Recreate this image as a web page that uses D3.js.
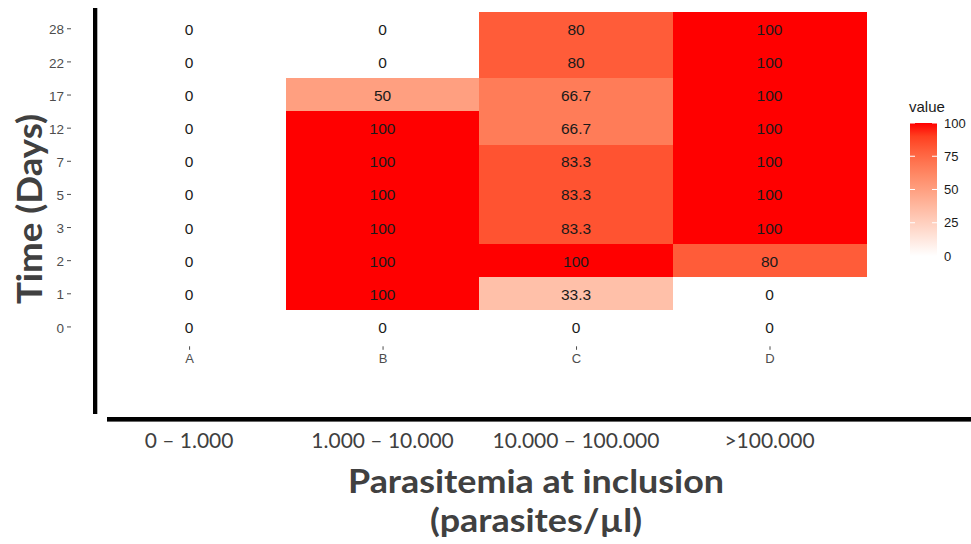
<!DOCTYPE html>
<html>
<head>
<meta charset="utf-8">
<script src="https://cdn.jsdelivr.net/npm/d3@7"></script>
<style>
  body { margin: 0; background: #fff; }
  svg { display: block; }
</style>
</head>
<body>
<div id="chart"></div>
<script>
// categories
const groups = ["A", "B", "C", "D"];
const groupLabels = ["0 \u2013 1.000", "1.000 \u2013 10.000", "10.000 \u2013 100.000", ">100.000"];
const days = ["0", "1", "2", "3", "5", "7", "12", "17", "22", "28"];

// % per day, one array per group (same order as days)
const valuesA = [0, 0, 0, 0, 0, 0, 0, 0, 0, 0];
const valuesB = [0, 100, 100, 100, 100, 100, 100, 50, 0, 0];
const valuesC = [0, 33.3, 100, 83.3, 83.3, 83.3, 66.7, 66.7, 80, 80];
const valuesD = [0, 0, 80, 100, 100, 100, 100, 100, 100, 100];
const legendTicks = [0, 25, 50, 75, 100];

const seriesByGroup = { A: valuesA, B: valuesB, C: valuesC, D: valuesD };
const cells = [];
groups.forEach(g => {
  seriesByGroup[g].forEach((v, i) => cells.push({ group: g, day: days[i], value: v }));
});

const W = 971, H = 544;
const FONT = "'Liberation Sans', Arial, sans-serif";
const SLIDE_FONT = "Lato, 'Open Sans', sans-serif";
const svg = d3.select("#chart").append("svg").attr("width", W).attr("height", H);

// ggplot style discrete expansion (0.6 of a step on each side)
const x = d3.scalePoint().domain(groups).range([73, 885.6]).padding(0.6);
const y = d3.scalePoint().domain(days.slice().reverse()).range([8.4, 346.3]).padding(0.6);
const color = d3.scaleLinear().domain([0, 100]).range(["#ffffff", "#ff0000"]).interpolate(d3.interpolateLab);

const sx = x.step(), sy = y.step();

svg.append("g").selectAll("rect").data(cells).join("rect")
  .attr("x", d => x(d.group) - sx / 2)
  .attr("y", d => y(d.day) - sy / 2)
  .attr("width", sx + 0.3)
  .attr("height", sy + 0.3)
  .attr("fill", d => color(d.value))
  .attr("shape-rendering", "crispEdges");

svg.append("g").selectAll("text").data(cells).join("text")
  .attr("x", d => x(d.group))
  .attr("y", d => y(d.day))
  .attr("dy", "0.42em")
  .attr("text-anchor", "middle")
  .style("font-family", FONT)
  .style("font-size", "15.5px")
  .attr("fill", "#1a1a1a")
  .text(d => d.value);

// y axis (ggplot-like)
const yAxis = svg.append("g").attr("transform", "translate(71,0)")
  .call(d3.axisLeft(y).tickSize(4).tickPadding(3));
yAxis.select(".domain").remove();
yAxis.selectAll("line").attr("stroke", "#4d4d4d");
yAxis.selectAll("text").attr("fill", "#4d4d4d").attr("dy", "0.42em")
  .style("font-family", FONT).style("font-size", "13.5px");

const xAxis = svg.append("g").attr("transform", "translate(0,346.3)")
  .call(d3.axisBottom(x).tickSize(3.5).tickPadding(4));
xAxis.select(".domain").remove();
xAxis.selectAll("line").attr("stroke", "#4d4d4d");
xAxis.selectAll("text").attr("fill", "#4d4d4d")
  .style("font-family", FONT).style("font-size", "13px");

// black frame lines drawn on top of the plot
svg.append("rect").attr("x", 93).attr("y", 8).attr("width", 4.3).attr("height", 406).attr("fill", "#000");
svg.append("rect").attr("x", 107).attr("y", 417).attr("width", 864).attr("height", 4.6).attr("fill", "#000");

// category labels under the black line
svg.append("g").selectAll("text").data(groups).join("text")
  .attr("x", d => x(d))
  .attr("y", 448)
  .attr("text-anchor", "middle")
  .style("font-family", SLIDE_FONT)
  .style("font-size", "21px")
  .attr("fill", "#404040")
  .text((d, i) => groupLabels[i]);

svg.append("text")
  .attr("x", 536).attr("y", 493)
  .attr("text-anchor", "middle")
  .attr("textLength", 376).attr("lengthAdjust", "spacingAndGlyphs")
  .style("font-family", SLIDE_FONT)
  .style("font-size", "33px").style("font-weight", "bold")
  .attr("fill", "#404040")
  .text("Parasitemia at inclusion");

svg.append("text")
  .attr("x", 536).attr("y", 532)
  .attr("text-anchor", "middle")
  .attr("textLength", 212).attr("lengthAdjust", "spacingAndGlyphs")
  .style("font-family", SLIDE_FONT)
  .style("font-size", "33px").style("font-weight", "bold")
  .attr("fill", "#404040")
  .text("(parasites/\u00b5l)");

svg.append("text")
  .attr("transform", "translate(42,209) rotate(-90)")
  .attr("text-anchor", "middle")
  .attr("textLength", 190).attr("lengthAdjust", "spacingAndGlyphs")
  .style("font-family", SLIDE_FONT)
  .style("font-size", "34px").style("font-weight", "bold")
  .attr("fill", "#404040")
  .text("Time (Days)");

// legend colour bar
const lg = d3.scaleLinear().domain([0, 100]).range([256, 123]);
const defs = svg.append("defs");
const grad = defs.append("linearGradient").attr("id", "legendGrad")
  .attr("x1", 0).attr("y1", 1).attr("x2", 0).attr("y2", 0);
d3.range(0, 101, 10).forEach(v => {
  grad.append("stop").attr("offset", `${v}%`).attr("stop-color", color(v));
});
svg.append("text").attr("x", 909).attr("y", 112)
  .style("font-family", FONT).style("font-size", "15px")
  .attr("fill", "#1a1a1a").text("value");
svg.append("rect").attr("x", 910).attr("y", lg(100)).attr("width", 27).attr("height", lg(0) - lg(100))
  .attr("fill", "url(#legendGrad)");
const lt = svg.append("g");
lt.selectAll("line.l").data(legendTicks).join("line").attr("class", "l")
  .attr("x1", 910).attr("x2", 915).attr("y1", d => lg(d)).attr("y2", d => lg(d))
  .attr("stroke", "#fff").attr("stroke-width", 1);
lt.selectAll("line.r").data(legendTicks).join("line").attr("class", "r")
  .attr("x1", 932).attr("x2", 937).attr("y1", d => lg(d)).attr("y2", d => lg(d))
  .attr("stroke", "#fff").attr("stroke-width", 1);
lt.selectAll("text").data(legendTicks).join("text")
  .attr("x", 944).attr("y", d => lg(d)).attr("dy", "0.36em")
  .style("font-family", FONT).style("font-size", "13px")
  .attr("fill", "#1a1a1a")
  .text(d => d);
</script>
</body>
</html>
